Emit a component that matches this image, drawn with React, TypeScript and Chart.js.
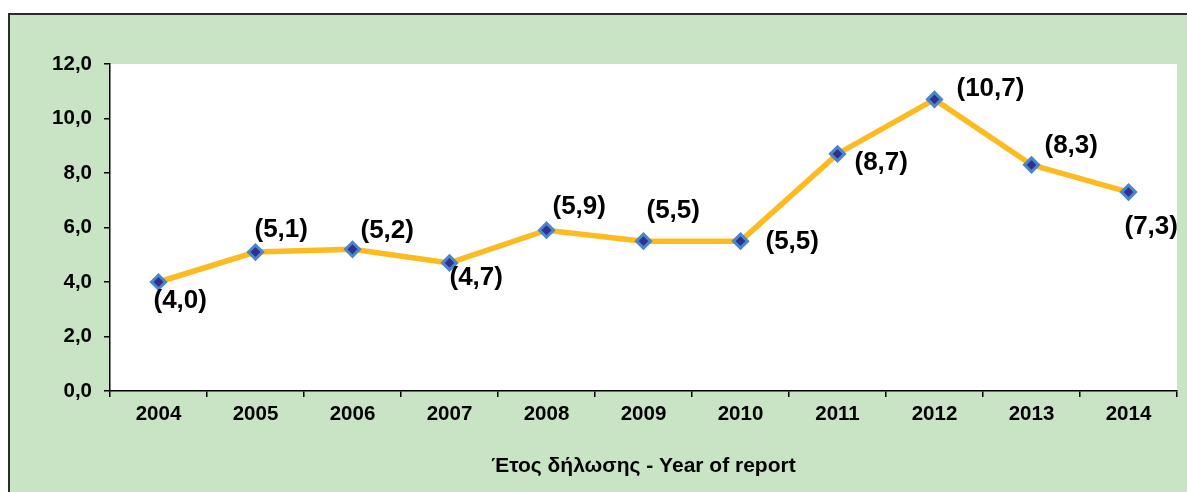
import React, { useEffect, useRef } from "react";
import { Chart, registerables } from "chart.js";

Chart.register(...registerables);

const years = ["2004", "2005", "2006", "2007", "2008", "2009", "2010", "2011", "2012", "2013", "2014"];
const values = [4.0, 5.1, 5.2, 4.7, 5.9, 5.5, 5.5, 8.7, 10.7, 8.3, 7.3];
const yTicks = [0, 2, 4, 6, 8, 10, 12];
const axisTitle = "Έτος δήλωσης - Year of report";

// label placement offsets (dx, dy) relative to each point
const labelDx = [-5, -1, 8, 0, 6, 3, 25, 17, 22, 13, -4];
const labelDy = [19, -22, -18, 15, -23, -30, 1, 9, -11, -19, 35];

const fmt = (v: number) => "(" + v.toFixed(1).replace(".", ",") + ")";

const W = 1187;
const H = 492;
const GREEN = "rgb(201,227,197)";
const FONT = "'Liberation Sans', Arial, sans-serif";

const plotBg = {
  id: "plotBg",
  beforeDraw(chart: any) {
    const { ctx, chartArea } = chart;
    ctx.save();
    ctx.fillStyle = "#ffffff";
    ctx.fillRect(chartArea.left, chartArea.top, chartArea.right - chartArea.left, chartArea.bottom - chartArea.top);
    ctx.restore();
  },
};

const valueLabels = {
  id: "valueLabels",
  afterDatasetsDraw(chart: any) {
    const { ctx } = chart;
    const meta = chart.getDatasetMeta(0);
    ctx.save();
    ctx.font = "bold 26px " + FONT;
    ctx.fillStyle = "#000";
    ctx.textAlign = "left";
    ctx.textBaseline = "middle";
    meta.data.forEach((pt: any, i: number) => {
      ctx.fillText(fmt(values[i]), pt.x + labelDx[i], pt.y + labelDy[i]);
    });
    ctx.restore();
  },
};

export default function App() {
  const ref = useRef<HTMLCanvasElement>(null);
  useEffect(() => {
    if (!ref.current) return;
    const chart = new Chart(ref.current, {
      type: "line",
      data: {
        labels: years,
        datasets: [
          {
            data: values,
            borderColor: "#FDBB1F",
            borderWidth: 5.5,
            pointStyle: "rectRot",
            pointRadius: 7,
            pointHoverRadius: 7,
            pointBackgroundColor: "#2E3192",
            pointBorderColor: "#4A86C8",
            pointBorderWidth: 3,
            tension: 0,
            fill: false,
          },
        ],
      },
      options: {
        responsive: false,
        animation: false,
        events: [],
        layout: { padding: { top: 64, right: 9, left: 0, bottom: 0 } },
        plugins: { legend: { display: false }, tooltip: { enabled: false } },
        scales: {
          x: {
            offset: true,
            grid: { offset: true, drawOnChartArea: false, drawTicks: true, tickLength: 6, color: "#000", lineWidth: 1.5 },
            border: { display: true, color: "#000", width: 1.5 },
            ticks: { color: "#000", font: { family: FONT, size: 20.5, weight: "bold" }, maxRotation: 0, padding: 5 },
            title: {
              display: true,
              text: axisTitle,
              color: "#000",
              font: { family: FONT, size: 21, weight: "bold" },
              padding: { top: 0, bottom: 13 },
            },
            afterFit(scale: any) {
              scale.height = 101;
            },
          },
          y: {
            min: 0,
            max: 12,
            afterBuildTicks(scale: any) {
              scale.ticks = yTicks.map((v) => ({ value: v }));
            },
            grid: { drawOnChartArea: false, drawTicks: true, tickLength: 6, color: "#000", lineWidth: 1.5 },
            border: { display: true, color: "#000", width: 1.5 },
            ticks: {
              color: "#000",
              font: { family: FONT, size: 20.5, weight: "bold" },
              padding: 12,
              callback: (v: any) => Number(v).toFixed(1).replace(".", ","),
            },
            afterFit(scale: any) {
              scale.width = 110;
            },
          },
        },
      },
      plugins: [plotBg, valueLabels],
    });
    return () => chart.destroy();
  }, []);

  return (
    <div style={{ position: "fixed", left: 0, top: 0, width: W, height: H, overflow: "hidden", background: "#fff" }}>
      <div
        style={{
          position: "absolute",
          left: 8,
          top: 13,
          width: 1220,
          height: 520,
          boxSizing: "border-box",
          border: "2.5px solid #2b2b2b",
          background: GREEN,
        }}
      />
      <canvas ref={ref} width={W} height={H} style={{ position: "absolute", left: 0, top: 0, width: W, height: H }} />
    </div>
  );
}
